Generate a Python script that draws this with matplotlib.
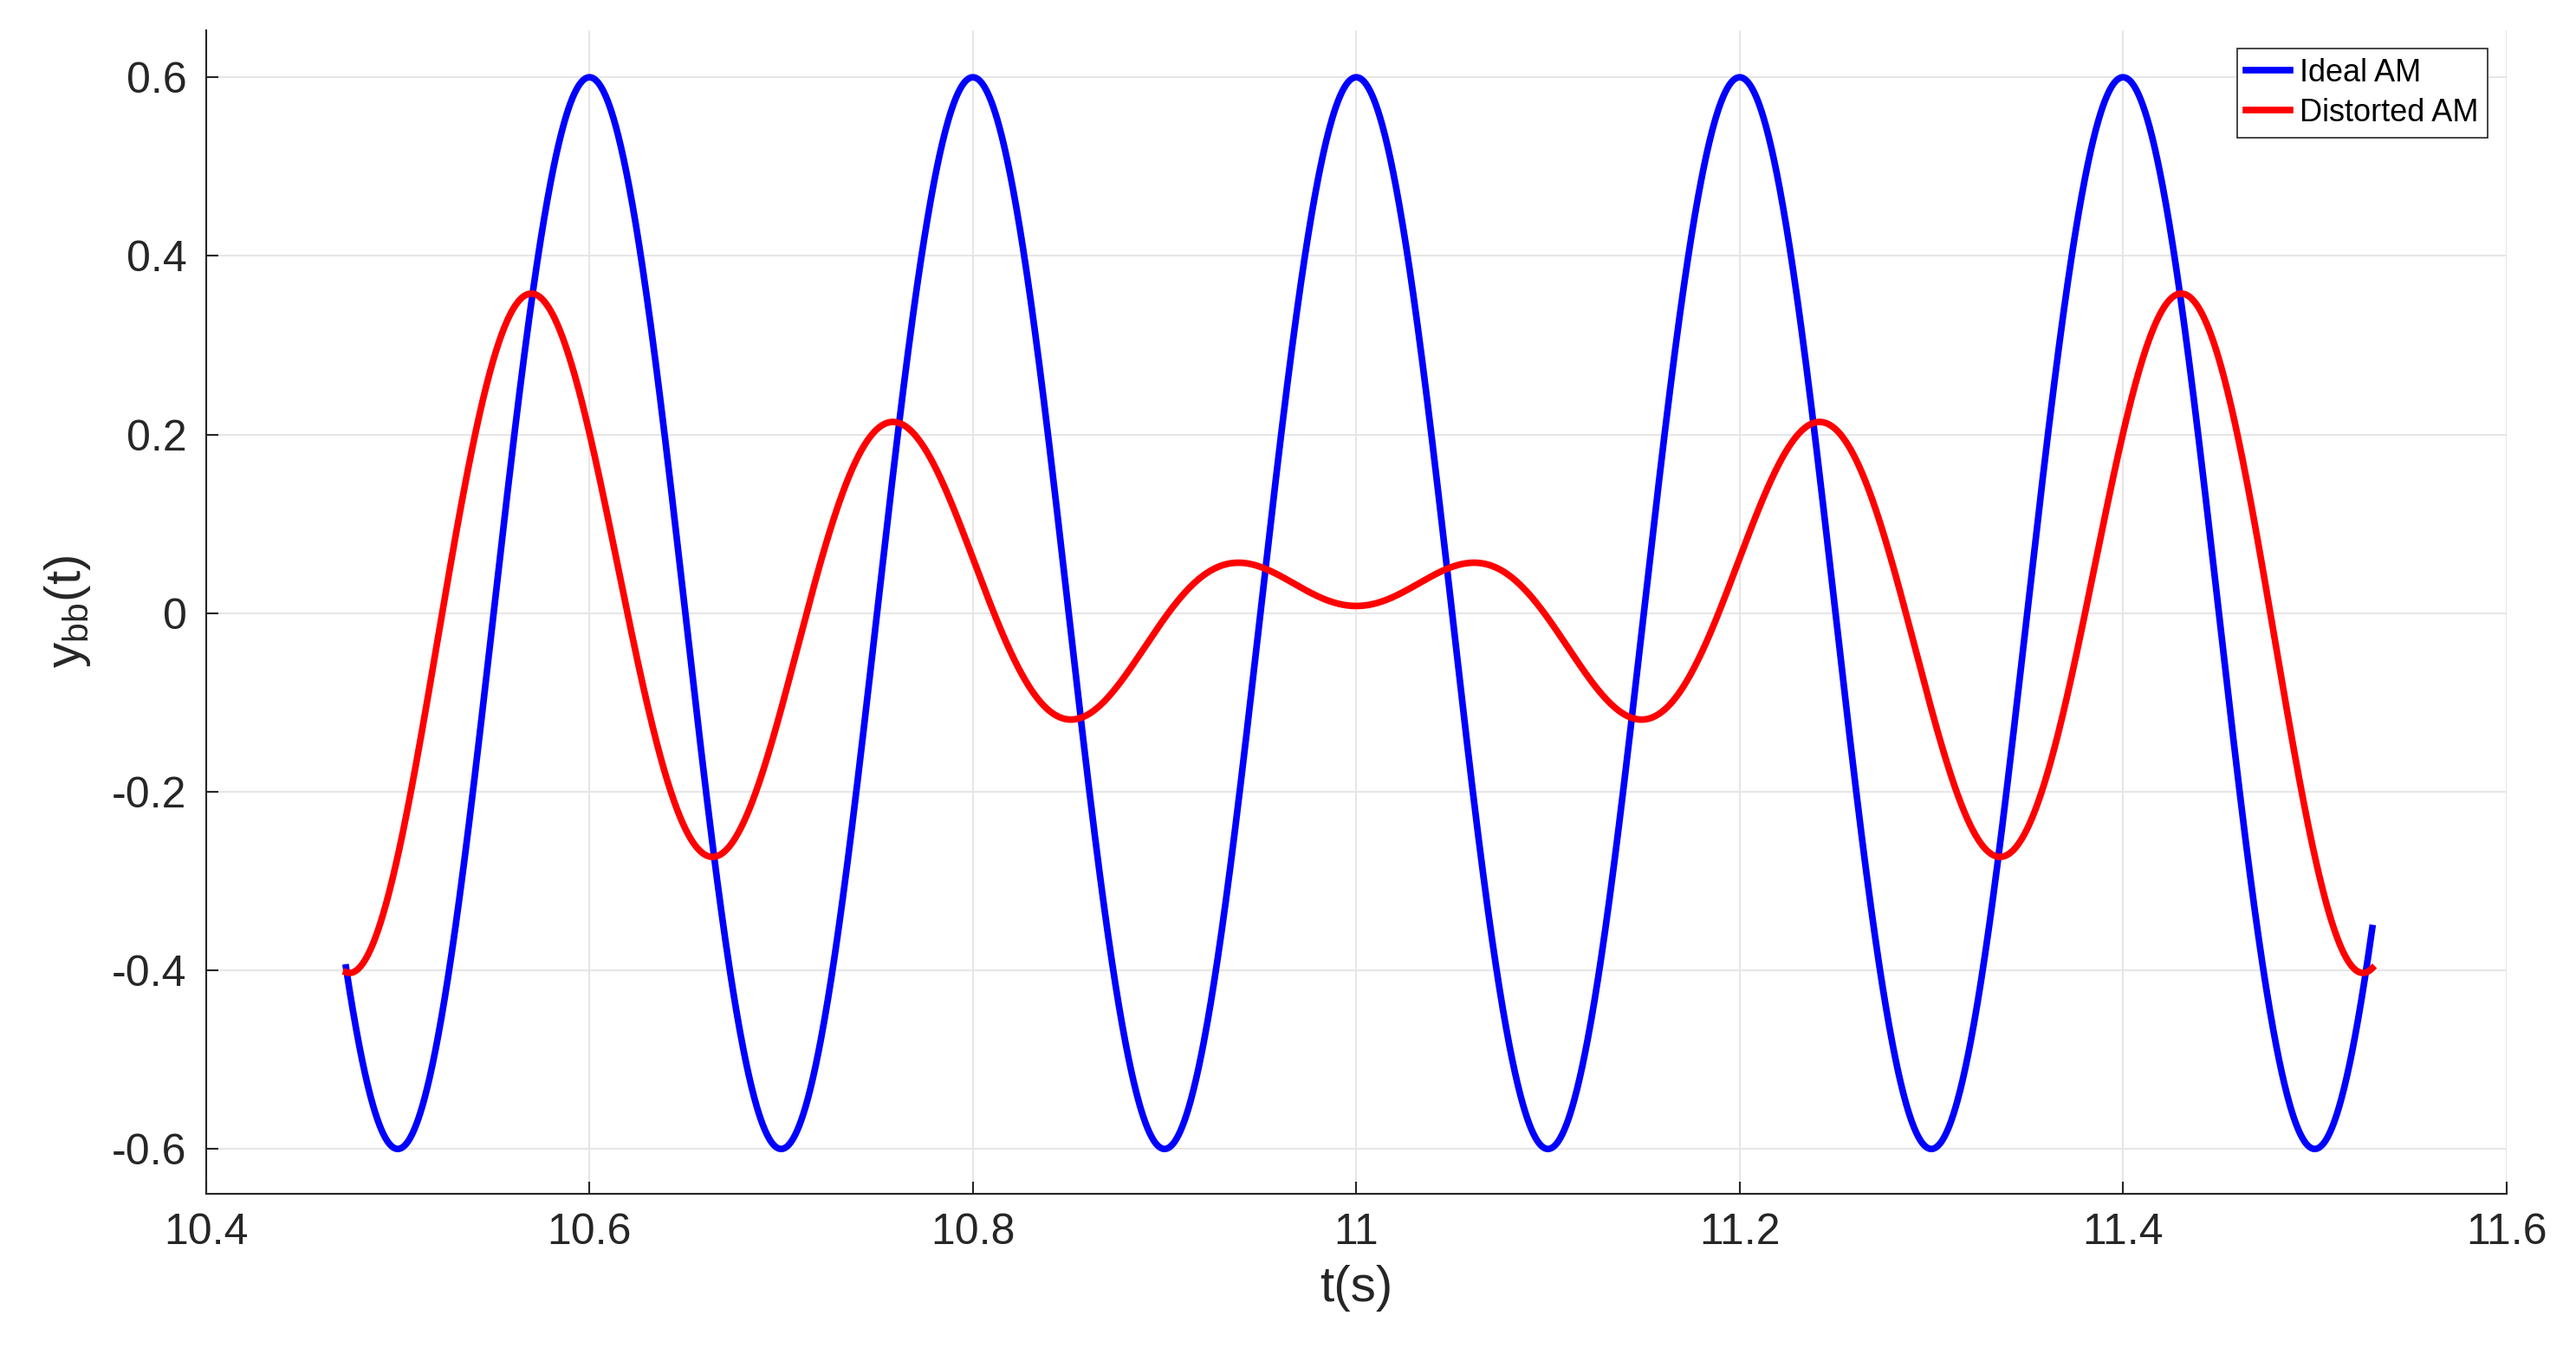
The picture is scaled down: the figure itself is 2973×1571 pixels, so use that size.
import numpy as np
import matplotlib.pyplot as plt

# parameters
t_start, t_end = 10.473, 11.53
t_center = 11.0
ideal_amp = 0.6
ideal_freq = 5.0          # Hz, peaks every 0.2 s
distorted_amp = 0.28
distorted_freqs = [5.0, 5.5]  # beating pair
distorted_offset = 0.008

t = np.linspace(t_start, t_end, 3000)
tau = t - t_center
ideal = ideal_amp * np.cos(2 * np.pi * ideal_freq * tau)
distorted = distorted_amp * (np.cos(2 * np.pi * distorted_freqs[0] * tau)
                             - np.cos(2 * np.pi * distorted_freqs[1] * tau)) + distorted_offset

plt.rcParams['font.family'] = ['Liberation Sans', 'DejaVu Sans']
fig = plt.figure(figsize=(29.73, 15.71), dpi=100)
ax = fig.add_axes([0.080, 0.123, 0.893, 0.855])

ax.plot(t, ideal, color='#0000ff', lw=5.5, label='Ideal AM')
ax.plot(t, distorted, color='#ff0000', lw=5.5, label='Distorted AM')

ax.set_xlim(10.4, 11.6)
ax.set_ylim(-0.65, 0.653)
ax.set_xticks([10.4, 10.6, 10.8, 11, 11.2, 11.4, 11.6])
ax.set_xticklabels(['10.4', '10.6', '10.8', '11', '11.2', '11.4', '11.6'])
ax.set_yticks([-0.6, -0.4, -0.2, 0, 0.2, 0.4, 0.6])
ax.set_yticklabels(['-0.6', '-0.4', '-0.2', '0', '0.2', '0.4', '0.6'])
ax.tick_params(direction='in', labelsize=36, length=10, width=1.5, pad=16, colors='#262626')
ax.grid(True, color='#e6e6e6', lw=1.5)
ax.set_axisbelow(True)
for s in ['top', 'right']:
    ax.spines[s].set_visible(False)
for s in ['left', 'bottom']:
    ax.spines[s].set_color('#262626')
    ax.spines[s].set_linewidth(1.5)

ax.set_xlabel('t(s)', fontsize=42, color='#262626', labelpad=10)
ax.set_ylabel(r'y$_{\mathregular{bb}}$(t)', fontsize=42, color='#262626', labelpad=16)

leg = ax.legend(loc='upper right', fontsize=26, fancybox=False, edgecolor='#262626',
                handlelength=1.4, borderaxespad=0.6, framealpha=1, handletextpad=0.3,
                borderpad=0.3, labelspacing=0.3)
leg.get_frame().set_linewidth(1.2)

fig.savefig('out.png', dpi=100)
